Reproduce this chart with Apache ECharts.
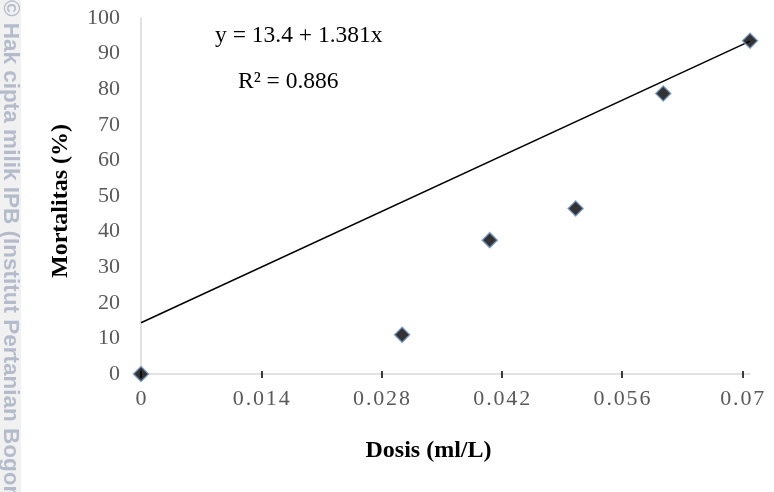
<!DOCTYPE html>
<html>
<head>
<meta charset="utf-8">
<script src="https://cdn.jsdelivr.net/npm/echarts@6/dist/echarts.min.js"></script>
<style>
html,body{margin:0;padding:0;background:#fff;}
#chart{width:774px;height:492px;}
</style>
</head>
<body>
<div id="chart"></div>
<script>
// ---- data ----
const xTickValues = [0, 0.014, 0.028, 0.042, 0.056, 0.07];
const xAxisMax = 0.0709;
const doses = [0, 0.0304, 0.0406, 0.0506, 0.0608, 0.0709];
const mortality = [0, 11.0, 37.6, 46.5, 78.8, 93.6];
const trendX = [0, 0.0709];
const trendY = [14.4, 93.5];
const equationText = 'y = 13.4 + 1.381x';
const r2Text = 'R\u00B2 = 0.886';
const xTitle = 'Dosis (ml/L)';
const yTitle = 'Mortalitas (%)';
const watermark = '\u00A9 Hak cipta milik IPB (Institut Pertanian Bogor)';

const serif = '"Liberation Serif", "Times New Roman", serif';
const chart = echarts.init(document.getElementById('chart'), null, {renderer: 'canvas'});

const spaced = v => String(v).split('').join('\u200A');

const option = {
  backgroundColor: '#ffffff',
  animation: false,
  grid: {left: 141, right: 24, top: 18, bottom: 118, containLabel: false},
  xAxis: [{
    type: 'value', min: 0, max: xAxisMax,
    name: xTitle, nameLocation: 'middle', nameGap: 65,
    nameTextStyle: {fontFamily: serif, fontWeight: 'bold', fontSize: 24, color: '#000', padding: [0, 34, 0, 0]},
    axisLine: {show: true, lineStyle: {color: '#d9d9d9', width: 1.5}},
    axisTick: {show: true, length: 4, lineStyle: {color: '#000', width: 1.5}, customValues: xTickValues},
    axisLabel: {fontFamily: serif, fontSize: 22, color: '#595959', margin: 14,
      customValues: xTickValues, formatter: spaced},
    splitLine: {show: false}
  }, {
    type: 'value', min: 0, max: xAxisMax, position: 'bottom',
    axisLine: {show: false},
    axisTick: {show: true, inside: true, length: 3, lineStyle: {color: '#000', width: 1.5}, customValues: xTickValues},
    axisLabel: {show: false},
    splitLine: {show: false}
  }],
  yAxis: {
    type: 'value', min: 0, max: 100, interval: 10,
    name: yTitle, nameLocation: 'middle', nameGap: 68, nameRotate: 90,
    nameTextStyle: {fontFamily: serif, fontWeight: 'bold', fontSize: 24, color: '#000', padding: [0, 10, 0, 0]},
    axisLine: {show: true, lineStyle: {color: '#d9d9d9', width: 1.5}},
    axisTick: {show: false},
    axisLabel: {fontFamily: serif, fontSize: 22, color: '#595959', margin: 21},
    splitLine: {show: false}
  },
  series: [{
    type: 'line',
    data: trendX.map((x, i) => [x, trendY[i]]),
    symbol: 'none',
    lineStyle: {color: '#000', width: 1.5},
    z: 2, silent: true
  }, {
    type: 'scatter',
    data: doses.map((x, i) => [x, mortality[i]]),
    symbol: 'diamond', symbolSize: 15,
    itemStyle: {color: '#000', borderColor: '#6f93c4', borderWidth: 1.5},
    z: 3
  }],
  graphic: [
    {type: 'rect', left: 0, top: 0, shape: {width: 21, height: 492}, style: {fill: '#f1f1f1'}, silent: true},
    {type: 'text', x: 10, y: 0, rotation: -Math.PI / 2,
      style: {text: watermark, font: 'bold 22.5px "Liberation Sans", Arial, sans-serif', fill: '#b4bccb',
        textAlign: 'left', textVerticalAlign: 'middle'}, silent: true},
    {type: 'text', x: 215, y: 36,
      style: {text: equationText, font: '23.5px ' + serif, fill: '#000', textVerticalAlign: 'middle'}},
    {type: 'text', x: 238, y: 82,
      style: {text: r2Text, font: '23.5px ' + serif, fill: '#000', textVerticalAlign: 'middle'}}
  ]
};
chart.setOption(option);
</script>
</body>
</html>
